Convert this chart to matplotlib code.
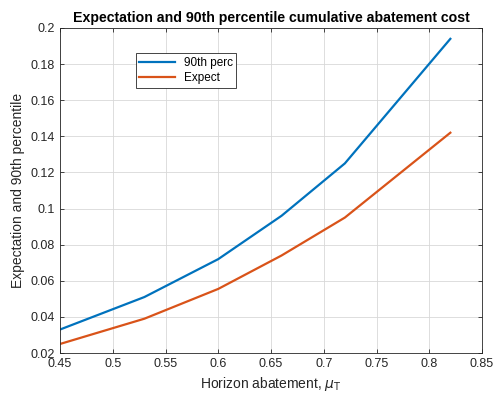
import numpy as np
import matplotlib
matplotlib.use("Agg")
import matplotlib.pyplot as plt

plt.rcParams['font.family'] = ['Liberation Sans', 'DejaVu Sans']

# Data
mu_T = [0.45, 0.53, 0.60, 0.66, 0.72, 0.82]
perc90 = [0.033, 0.051, 0.072, 0.096, 0.125, 0.194]
expect = [0.025, 0.039, 0.0555, 0.074, 0.095, 0.142]

xticks = [0.45, 0.5, 0.55, 0.6, 0.65, 0.7, 0.75, 0.8, 0.85]
xticklabels = ["0.45", "0.5", "0.55", "0.6", "0.65", "0.7", "0.75", "0.8", "0.85"]
yticks = [0.02, 0.04, 0.06, 0.08, 0.1, 0.12, 0.14, 0.16, 0.18, 0.2]
yticklabels = ["0.02", "0.04", "0.06", "0.08", "0.1", "0.12", "0.14", "0.16", "0.18", "0.2"]

fig = plt.figure(figsize=(4.94, 4.01), dpi=100)
ax = fig.add_axes([0.1215, 0.1197, 0.8542, 0.8105])

ax.plot(mu_T, perc90, color="#0072BD", lw=1.6, label="90th perc")
ax.plot(mu_T, expect, color="#D95319", lw=1.6, label="Expect")

ax.set_xlim(0.45, 0.85)
ax.set_ylim(0.02, 0.2)
ax.set_xticks(xticks)
ax.set_xticklabels(xticklabels)
ax.set_yticks(yticks)
ax.set_yticklabels(yticklabels)
ax.tick_params(direction="in", top=True, right=True, labelsize=9, colors="#262626",
               length=3, width=0.6)
for s in ax.spines.values():
    s.set_color("#262626")
    s.set_linewidth(0.6)
ax.grid(True, color="#d8d8d8", lw=0.6)

ax.set_xlabel(r"Horizon abatement, $\mu_\mathrm{T}$", fontsize=10, color="#262626")
ax.set_ylabel("Expectation and 90th percentile", fontsize=10, color="#262626")
ax.set_title("Expectation and 90th percentile cumulative abatement cost",
             fontsize=10.2, fontweight="bold", pad=4)

leg = ax.legend(loc="upper left", bbox_to_anchor=(0.165, 0.94), fontsize=8.5,
                fancybox=False, framealpha=1, edgecolor="#262626",
                handlelength=3.0, borderpad=0.3, labelspacing=0.3)
leg.get_frame().set_linewidth(0.6)

fig.savefig("out.png", dpi=100)
